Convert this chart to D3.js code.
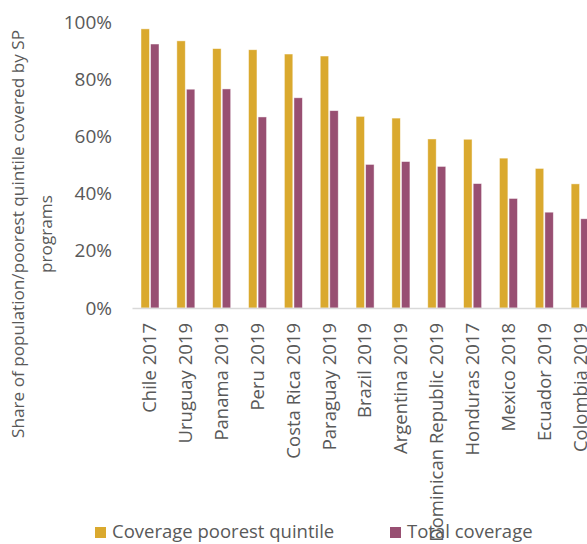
<!DOCTYPE html>
<html><head><meta charset="utf-8">
<script src="https://cdn.jsdelivr.net/npm/d3@7"></script>
<style>body{margin:0;background:#fff}svg{display:block}</style>
</head><body><svg id="c" width="587" height="544"></svg>
<script>
const categories = ["Chile 2017","Uruguay 2019","Panama 2019","Peru 2019","Costa Rica 2019","Paraguay 2019","Brazil 2019","Argentina 2019","Dominican Republic 2019","Honduras 2017","Mexico 2018","Ecuador 2019","Colombia 2019"];
const poorestQuintile = [97.6,93.4,90.7,90.3,88.8,88.1,67.0,66.4,59.1,59.0,52.4,48.8,43.4];
const totalCoverage = [92.3,76.5,76.6,66.8,73.5,69.0,50.2,51.2,49.5,43.5,38.3,33.5,31.2];
const yTicks = [0,20,40,60,80,100];
const seriesNames = ["Coverage poorest quintile","Total coverage"];
const colors = ["#DAA92E","#984F72"];

const svg = d3.select("#c");
const font = "'Open Sans', sans-serif";
const x = d3.scaleBand().domain(categories).range([132, 598]).paddingInner(0).paddingOuter(0);
const y = d3.scaleLinear().domain([0,100]).range([308, 22]);
const inner = d3.scaleBand().domain([0,1]).range([9, 27]).paddingInner(0.12);

// bars
[poorestQuintile, totalCoverage].forEach((vals, si) => {
  svg.append("g").selectAll("rect").data(vals).join("rect")
    .attr("x", (d,i) => x(categories[i]) + inner(si))
    .attr("y", d => y(d))
    .attr("width", inner.bandwidth())
    .attr("height", d => y(0) - y(d))
    .attr("fill", colors[si])
    .attr("stroke", "#fff").attr("stroke-opacity", 0.6).attr("stroke-width", 0.75);
});

// x axis
const xa = svg.append("g").attr("transform", "translate(0,308)")
  .call(d3.axisBottom(x).tickSize(0).tickPadding(0));
xa.select(".domain").attr("stroke", "#d9d9d9").attr("stroke-width", 1.5);
xa.selectAll("text")
  .attr("transform", "rotate(-90)")
  .attr("x", -15).attr("y", 0).attr("dy", "0.35em")
  .attr("text-anchor", "end")
  .attr("fill", "#595959").style("font-family", font).style("font-size", "18.5px");

// y axis
const ya = svg.append("g").attr("transform", "translate(112,0)")
  .call(d3.axisLeft(y).tickValues(yTicks).tickFormat(d => d + "%").tickSize(0).tickPadding(0));
ya.select(".domain").remove();
ya.selectAll("text").attr("fill", "#595959").style("font-family", font).style("font-size", "19px");

// y title
const t = svg.append("text").attr("transform", "translate(24,234) rotate(-90)")
  .attr("text-anchor", "middle").attr("fill", "#595959")
  .style("font-family", font).style("font-size", "17.2px");
t.append("tspan").attr("x", 0).attr("dy", 0).text("Share of population/poorest quintile covered by SP");
t.append("tspan").attr("x", 0).attr("dy", "1.6em").text("programs");

// legend
const legX = [95, 390];
seriesNames.forEach((n, i) => {
  const g = svg.append("g").attr("transform", `translate(${legX[i]},0)`);
  g.append("rect").attr("x", 0).attr("y", 527).attr("width", 11).attr("height", 11).attr("fill", colors[i]);
  g.append("text").attr("x", 17).attr("y", 538).attr("fill", "#595959")
    .style("font-family", font).style("font-size", "18.5px").text(n);
});
</script></body></html>
